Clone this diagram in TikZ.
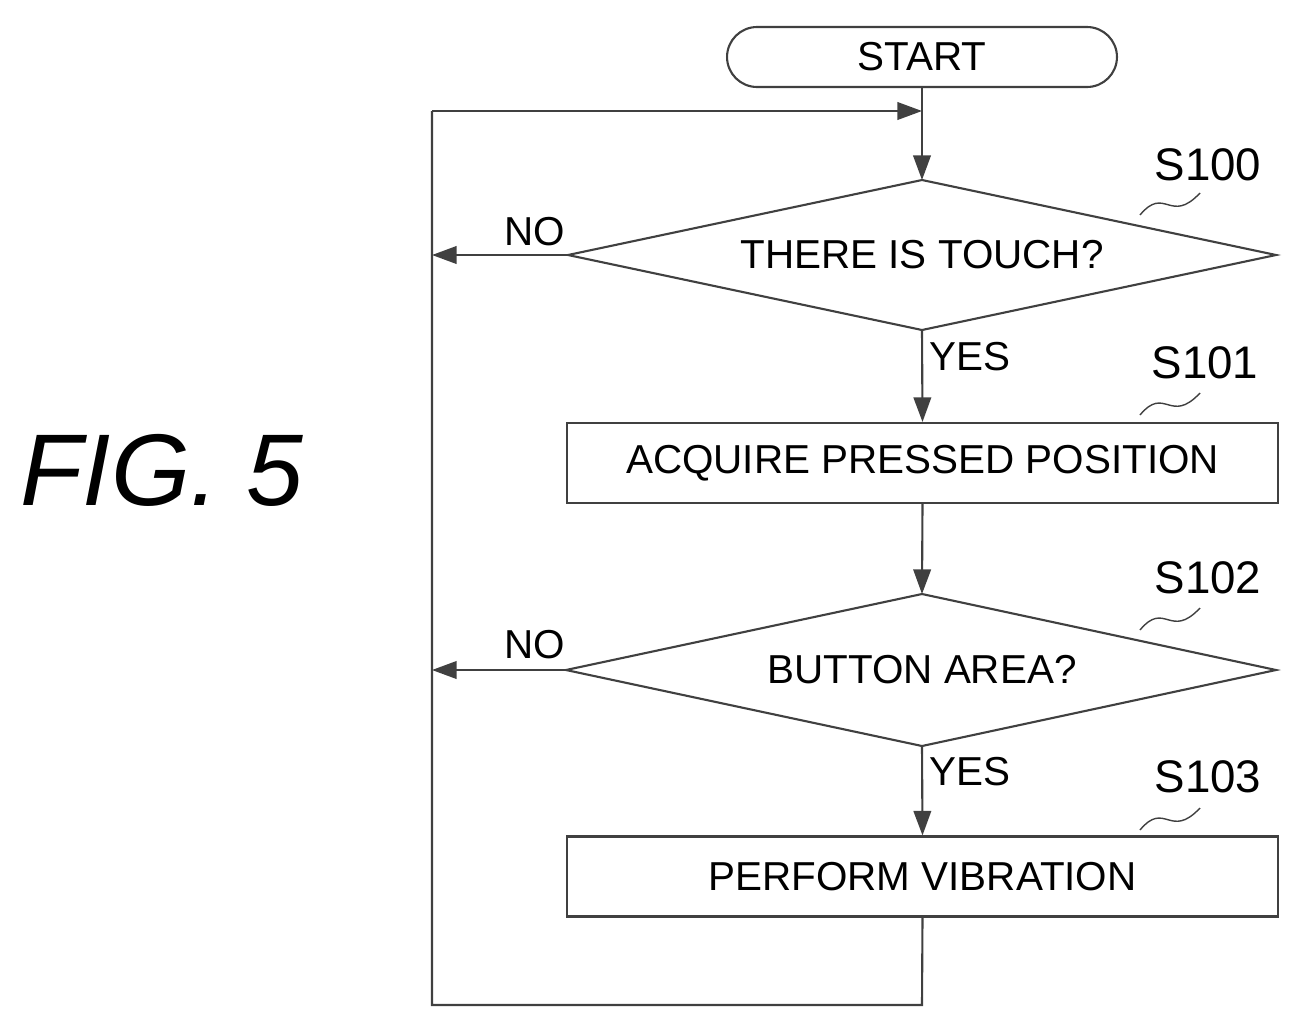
\documentclass[tikz,border=0pt]{standalone}
\usepackage{fontspec}
\setmainfont{Liberation Sans}
\usetikzlibrary{arrows.meta,shapes.geometric}
\begin{document}
\begin{tikzpicture}[x=0.02cm,y=-0.02cm,
  line/.style={line width=1.2pt,draw=black!75},
  arr/.style={line, -{Triangle[length=14pt,width=10pt]}},
  txt/.style={font=\fontsize{23}{25}\selectfont},
  lab/.style={font=\fontsize{26}{28}\selectfont},
  box/.style={line, rectangle, minimum width=14.22cm, minimum height=1.6cm, txt}]
\useasboundingbox (0,0) rectangle (1302,1029);
\node[line, rounded corners=0.6cm, minimum width=7.8cm, minimum height=1.2cm, txt] (start) at (922,57) {START};
\draw[line] (922,180) -- (1276,255) -- (922,330) -- (568,255) -- cycle;
\node[txt] (d1) at (922,255) {THERE IS TOUCH?};
\coordinate (d1t) at (922,180); \coordinate (d1b) at (922,330); \coordinate (d1l) at (568,255);
\node[box] (b1) at (922.5,463) {ACQUIRE PRESSED POSITION};
\draw[line] (922,594) -- (1276,670) -- (922,746) -- (566,670) -- cycle;
\node[txt] (d2) at (922,670) {BUTTON AREA?};
\coordinate (d2t) at (922,594); \coordinate (d2b) at (922,746); \coordinate (d2l) at (566,670);
\node[box] (b2) at (922.5,876.5) {PERFORM VIBRATION};
\coordinate (loopTL) at (432,111); \coordinate (loopJ) at (922,111);
\coordinate (bl) at (432,1005); \coordinate (br) at (922,1005);
\coordinate (n1) at (432,255); \coordinate (n2) at (432,670);
\draw[arr] (start.south) -- (d1t);
\draw[arr] (d1b) -- (b1.north);
\draw[arr] (b1.south) -- (d2t);
\draw[arr] (d2b) -- (b2.north);
\draw[arr] (d1l) -- (n1);
\draw[arr] (d2l) -- (n2);
\draw[line] (b2.south) -- (br) -- (bl) -- (loopTL);
\draw[arr] (loopTL) -- (loopJ);
\node[txt] at (535,232) {NO};
\node[txt] at (535,645) {NO};
\node[txt] at (970,357) {YES};
\node[txt] at (970,772) {YES};
\node[lab] (s100) at (1208,165) {S100};
\node[lab] (s101) at (1205,363) {S101};
\node[lab] (s102) at (1208,578) {S102};
\node[lab] (s103) at (1208,777) {S103};
\foreach \x/\y in {1140/215, 1140/415, 1140/630, 1140/830}{
  \draw[line, line width=0.8pt] (\x,\y) .. controls (\x+25,\y-30) and (\x+30,\y+10) .. (\x+60,\y-22);
}
\node[font=\fontsize{58}{58}\selectfont\itshape] (fig) at (162,470) {FIG. 5};
\end{tikzpicture}
\end{document}
